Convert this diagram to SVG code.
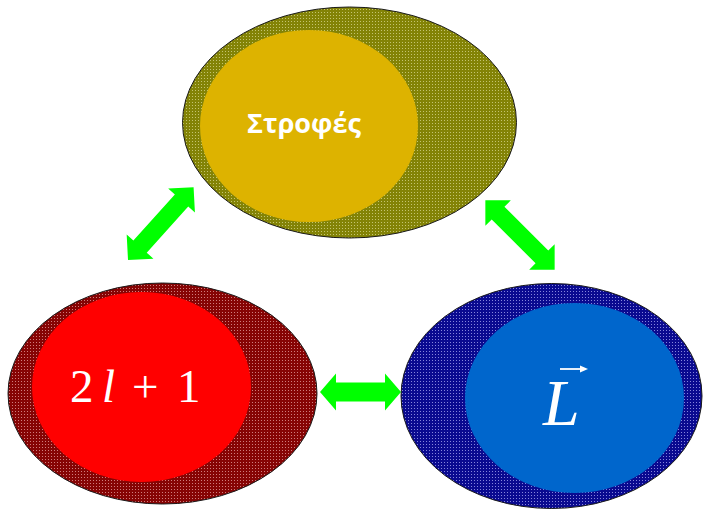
<svg xmlns="http://www.w3.org/2000/svg" width="703" height="509" viewBox="0 0 703 509">
  <style>
    .outer { stroke: #1a1a1a; stroke-width: 1; }
    .link { fill: #00ff00; stroke: none; }
    .greek { font-family: "Open Sans", "DejaVu Sans", sans-serif; font-weight: bold; fill: #ffffff; }
    .math { font-family: "Liberation Serif", "Times New Roman", serif; fill: #ffffff; }
  </style>
  <defs>
    <!-- stippled fills for the outer rings -->
    <pattern id="dotOlive" patternUnits="userSpaceOnUse" width="3" height="3">
      <rect width="3" height="3" fill="#838306"/>
      <rect width="1" height="1" fill="#c4c470"/>
    </pattern>
    <pattern id="dotMaroon" patternUnits="userSpaceOnUse" width="3" height="3">
      <rect width="3" height="3" fill="#860404"/>
      <rect width="1" height="1" fill="#cf7c7c"/>
    </pattern>
    <pattern id="dotNavy" patternUnits="userSpaceOnUse" width="3" height="3">
      <rect width="3" height="3" fill="#0a0a90"/>
      <rect width="1" height="1" fill="#8484dc"/>
    </pattern>
    <!-- double-headed block arrow, centred on the origin, along x -->
    <path id="dblArrow" d="M -49,0 L -31,-18 L -31,-9 L 31,-9 L 31,-18 L 49,0 L 31,18 L 31,9 L -31,9 L -31,18 Z"/>
    <path id="dblArrowShort" d="M -40.5,0 L -24.5,-18.5 L -24.5,-9.5 L 24.5,-9.5 L 24.5,-18.5 L 40.5,0 L 24.5,18.5 L 24.5,9.5 L -24.5,9.5 L -24.5,18.5 Z"/>
  </defs>

  <rect width="703" height="509" fill="#ffffff"/>

  <g id="connectors">
    <use href="#dblArrow" class="link" transform="translate(160.8,223.6) rotate(-48)"/>
    <use href="#dblArrow" class="link" transform="translate(520,235) rotate(45)"/>
    <use href="#dblArrowShort" class="link" transform="translate(360.5,392)"/>
  </g>

  <g id="node-strofes">
    <ellipse class="outer" cx="349.5" cy="122.5" rx="167" ry="115.5" fill="url(#dotOlive)"/>
    <ellipse cx="309" cy="126" rx="109" ry="96" fill="#ddb300"/>
    <text class="greek" x="304" y="133" font-size="27" text-anchor="middle">Στροφές</text>
  </g>

  <g id="node-degeneracy">
    <ellipse class="outer" cx="162.5" cy="393.5" rx="154.5" ry="110.5" fill="url(#dotMaroon)"/>
    <ellipse cx="141.5" cy="387" rx="109.5" ry="95" fill="#ff0000"/>
    <text class="math" y="402" font-size="47"><tspan x="70">2</tspan><tspan x="102" font-style="italic">l</tspan><tspan x="132">+</tspan><tspan x="177">1</tspan></text>
  </g>

  <g id="node-angular-momentum">
    <ellipse class="outer" cx="551.5" cy="396" rx="150.5" ry="112.5" fill="url(#dotNavy)"/>
    <ellipse cx="574.5" cy="398" rx="109.5" ry="95" fill="#0066cc"/>
    <text class="math" x="543" y="425" font-size="66" font-style="italic">L</text>
    <line x1="560" y1="369" x2="583" y2="369" stroke="#ffffff" stroke-width="1.8"/>
    <path d="M 588,369 L 580,365.5 L 580,372.5 Z" fill="#ffffff"/>
  </g>
</svg>
